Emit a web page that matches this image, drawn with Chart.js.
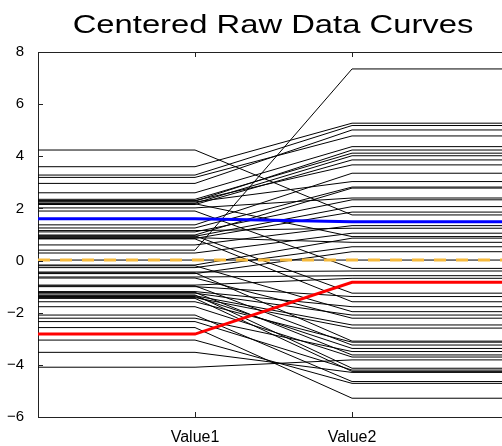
<!DOCTYPE html>
<html>
<head>
<meta charset="utf-8">
<script src="https://cdn.jsdelivr.net/npm/chart.js@4.4.1/dist/chart.umd.min.js"></script>
<style>
  html, body { margin: 0; padding: 0; overflow: hidden; background: #fff; }
  #wrap { position: relative; width: 502px; height: 446px; }
  #title {
    position: absolute; top: 9px; left: 0; width: 546px;
    text-align: center; font: 26px 'Liberation Sans', Arial, sans-serif; color: #000;
    transform: scaleX(1.26); transform-origin: 273px 0; white-space: nowrap;
  }
</style>
</head>
<body>
<div id="wrap">
  <div id="title">Centered Raw Data Curves</div>
  <canvas id="curves" width="502" height="446"></canvas>
</div>
<script>
// x stations: flat lead-in, Value1, Value2, flat tail
const categories = ['', 'Value1', 'Value2', ''];
const yTicks = [-6, -4, -2, 0, 2, 4, 6, 8];

// centered values per curve
const value1 = [4.24, 3.60, 3.28, 3.19, 2.96, 2.60, 2.35, 2.30, 2.28, 2.25, 2.20, 2.18, 2.15, 2.02,
  1.90, 1.37, 1.25, 1.15, 1.10, 0.98, 0.95, 0.93, 0.88, 0.85, 0.83, 0.60, 0.40, 0.29,
  -0.17, -0.20, -0.27, -0.44, -0.47, -0.50, -0.63, -0.67, -0.94, -0.97, -1.00, -1.19, -1.22, -1.25,
  -1.32, -1.35, -1.38, -1.42, -1.45, -1.58, -1.77, -2.09, -2.21, -2.34, -2.57, -3.05, -3.52, -4.09];
const value2 = [1.75, 5.27, 5.18, 4.78, 5.01, 4.37, 4.12, 3.67, 4.24, 3.03, 4.02, 0.92, 3.86, 2.40,
  -0.30, 3.35, 2.82, 1.24, 2.33, 2.78, -1.25, 2.07, 0.70, 1.86, -1.58, 1.34, 7.35, 1.05,
  0.86, -1.96, 0.53, -0.40, -3.09, 0.34, -0.58, -2.21, -0.68, -3.24, -1.38, -1.77, -3.62, -2.09,
  -4.13, -2.47, -3.37, -2.59, -4.25, -3.13, -3.70, -4.64, -3.49, -4.20, -5.28, -4.71, -4.29, -3.81];

const meanCurve = [0.02, 0.02];
const blueCurve = [1.60, 1.49];
const redCurve = [-2.82, -0.83];

const toPoints = (a, b) => [a, a, b, b].map((y, i) => ({ x: i, y: y }));

const datasets = [];
datasets.push({ data: toPoints(redCurve[0], redCurve[1]), borderColor: 'rgb(255,0,0)', borderWidth: 3, order: 0 });
datasets.push({ data: toPoints(blueCurve[0], blueCurve[1]), borderColor: 'rgb(0,0,255)', borderWidth: 3, order: 0 });
datasets.push({ data: toPoints(meanCurve[0], meanCurve[1]), borderColor: 'rgb(245,185,60)', borderWidth: 3, borderDash: [12, 10], order: 0 });
datasets.push({ data: toPoints(meanCurve[0], meanCurve[1]), borderColor: '#000', borderWidth: 1, order: 1 });
value1.forEach((v, i) => {
  datasets.push({ data: toPoints(v, value2[i]), borderColor: '#000', borderWidth: 1, order: 2 });
});

// box top + inward tick marks like the original
const boxTicks = {
  id: 'boxTicks',
  afterDraw(chart) {
    const { ctx, chartArea: a, scales: { x, y } } = chart;
    ctx.save();
    ctx.strokeStyle = '#222';
    ctx.lineWidth = 1;
    ctx.beginPath();
    ctx.moveTo(a.left, a.top + 0.5);
    ctx.lineTo(a.right, a.top + 0.5);
    [1, 2].forEach(v => {
      const px = Math.round(x.getPixelForValue(v)) + 0.5;
      ctx.moveTo(px, a.top); ctx.lineTo(px, a.top + 5);
      ctx.moveTo(px, a.bottom); ctx.lineTo(px, a.bottom - 5);
    });
    yTicks.forEach(v => {
      const py = Math.round(y.getPixelForValue(v)) + 0.5;
      ctx.moveTo(a.left, py); ctx.lineTo(a.left + 5, py);
    });
    ctx.stroke();
    ctx.restore();
  }
};

new Chart(document.getElementById('curves'), {
  type: 'line',
  data: { datasets: datasets },
  options: {
    responsive: false,
    animation: false,
    layout: { padding: { top: 52, right: 0, bottom: 0, left: 0 } },
    elements: { point: { radius: 0 }, line: { tension: 0 } },
    plugins: { legend: { display: false }, tooltip: { enabled: false } },
    scales: {
      x: {
        type: 'linear',
        min: 0,
        max: 2.955,
        grid: { display: false },
        border: { display: true, color: '#222', width: 1 },
        afterBuildTicks: (axis) => { axis.ticks = [{ value: 1 }, { value: 2 }]; },
        afterFit: (axis) => { axis.height = 29; },
        ticks: {
          padding: 3,
          color: '#000',
          font: { family: 'Liberation Sans', size: 16 },
          callback: (v) => categories[v]
        }
      },
      y: {
        min: -6,
        max: 8,
        grid: { display: false },
        border: { display: true, color: '#222', width: 1 },
        afterBuildTicks: (axis) => { axis.ticks = yTicks.map(v => ({ value: v })); },
        afterFit: (axis) => { axis.width = 38; },
        ticks: {
          padding: 6,
          color: '#000',
          font: { family: 'Liberation Sans', size: 15 },
          callback: (v) => String(v).replace('-', '\u2212')
        }
      }
    }
  },
  plugins: [boxTicks]
});
</script>
</body>
</html>
